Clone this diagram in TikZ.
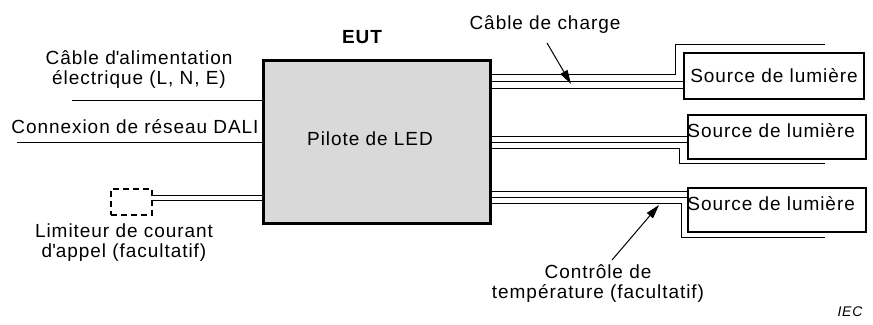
\documentclass[tikz,border=0pt]{standalone}
\usepackage{fontspec}
\setmainfont{Liberation Sans}[LetterSpace=5]
\usetikzlibrary{arrows.meta}
\begin{document}
\begin{tikzpicture}[x=0.5pt, y=-0.5pt, >={Triangle[length=7pt,width=4pt]},
  font=\fontsize{9.5}{10}\selectfont,
  fil/.style={line width=0.5pt},
  srcbox/.style={draw, line width=1pt, minimum width=89pt, minimum height=22pt,
    inner sep=0pt, anchor=north west}]

  \useasboundingbox (0,0) rectangle (873,325);

  % EUT
  \node[draw, line width=1.5pt, fill=black!15, minimum width=113.5pt,
    minimum height=81.5pt, inner sep=0pt, anchor=north west] (eut) at (262,59) {};
  \node[font=\fontsize{9.5}{10}\selectfont\bfseries] (eutlbl) at (362,37) {EUT};
  \node (pilote) at (370,139) {Pilote de LED};

  % sources de lumière
  \node[srcbox, minimum width=90pt, minimum height=23pt] (src1) at (683,52) {Source de lumière};
  \node[srcbox] (src2) at (687,114) {};
  \node[anchor=west, inner sep=0pt] (txt2) at (687,131) {Source de lumière};
  \node[srcbox] (src3) at (687,187) {};
  \node[anchor=west, inner sep=0pt] (txt3) at (687,204) {Source de lumière};

  % câble de charge (source 1)
  \coordinate (k1) at (675,75);
  \coordinate (e1) at (825,45);
  \draw[fil] (eut.east |- k1) -- (k1) |- (e1);
  \foreach \y in {82,89}
    \draw[fil] (eut.east |- 0,\y) -- (src1.west |- 0,\y);

  % source 2
  \coordinate (k2) at (679,149);
  \coordinate (e2) at (825,164);
  \foreach \y in {137,143}
    \draw[fil] (eut.east |- 0,\y) -- (src2.west |- 0,\y);
  \draw[fil] (eut.east |- k2) -- (k2) |- (e2);

  % source 3
  \coordinate (k3) at (681,204);
  \coordinate (e3) at (825,238);
  \foreach \y in {192,198}
    \draw[fil] (eut.east |- 0,\y) -- (src3.west |- 0,\y);
  \draw[fil] (eut.east |- k3) -- (k3) |- (e3);

  % alimentation et DALI
  \coordinate (a1) at (72,101);
  \coordinate (a2) at (17,143);
  \draw[fil] (a1) -- (eut.west |- a1);
  \draw[fil] (a2) -- (eut.west |- a2);
  \node[align=center] (alim) at (139,70) {Câble d\textquotesingle alimentation\\électrique (L, N, E)};
  \node (dali) at (135,127) {Connexion de réseau DALI};

  % limiteur (facultatif)
  \node[draw, line width=1pt, dash pattern=on 3pt off 2pt, minimum width=20.5pt,
    minimum height=13pt, inner sep=0pt, anchor=north west] (lim) at (110,188) {};
  \foreach \y in {196,201}
    \draw[fil] (lim.east |- 0,\y) -- (eut.west |- 0,\y);
  \node[align=center] (limlbl) at (124,243) {Limiteur de courant\\d\textquotesingle appel (facultatif)};

  % légendes avec flèches
  \node (charge) at (545,25) {Câble de charge};
  \coordinate (t1) at (571,84);
  \draw[fil, ->] ([xshift=1pt,yshift=-1pt]charge.south) -- (t1);

  \node[align=center] (temp) at (598,284) {Contrôle de\\température (facultatif)};
  \coordinate (t2) at (659,205);
  \draw[fil, ->] ([xshift=7pt,yshift=-1pt]temp.north) -- (t2);

  \node[font=\fontsize{7}{8}\selectfont\itshape] (iec) at (850,312) {IEC};

\end{tikzpicture}
\end{document}
